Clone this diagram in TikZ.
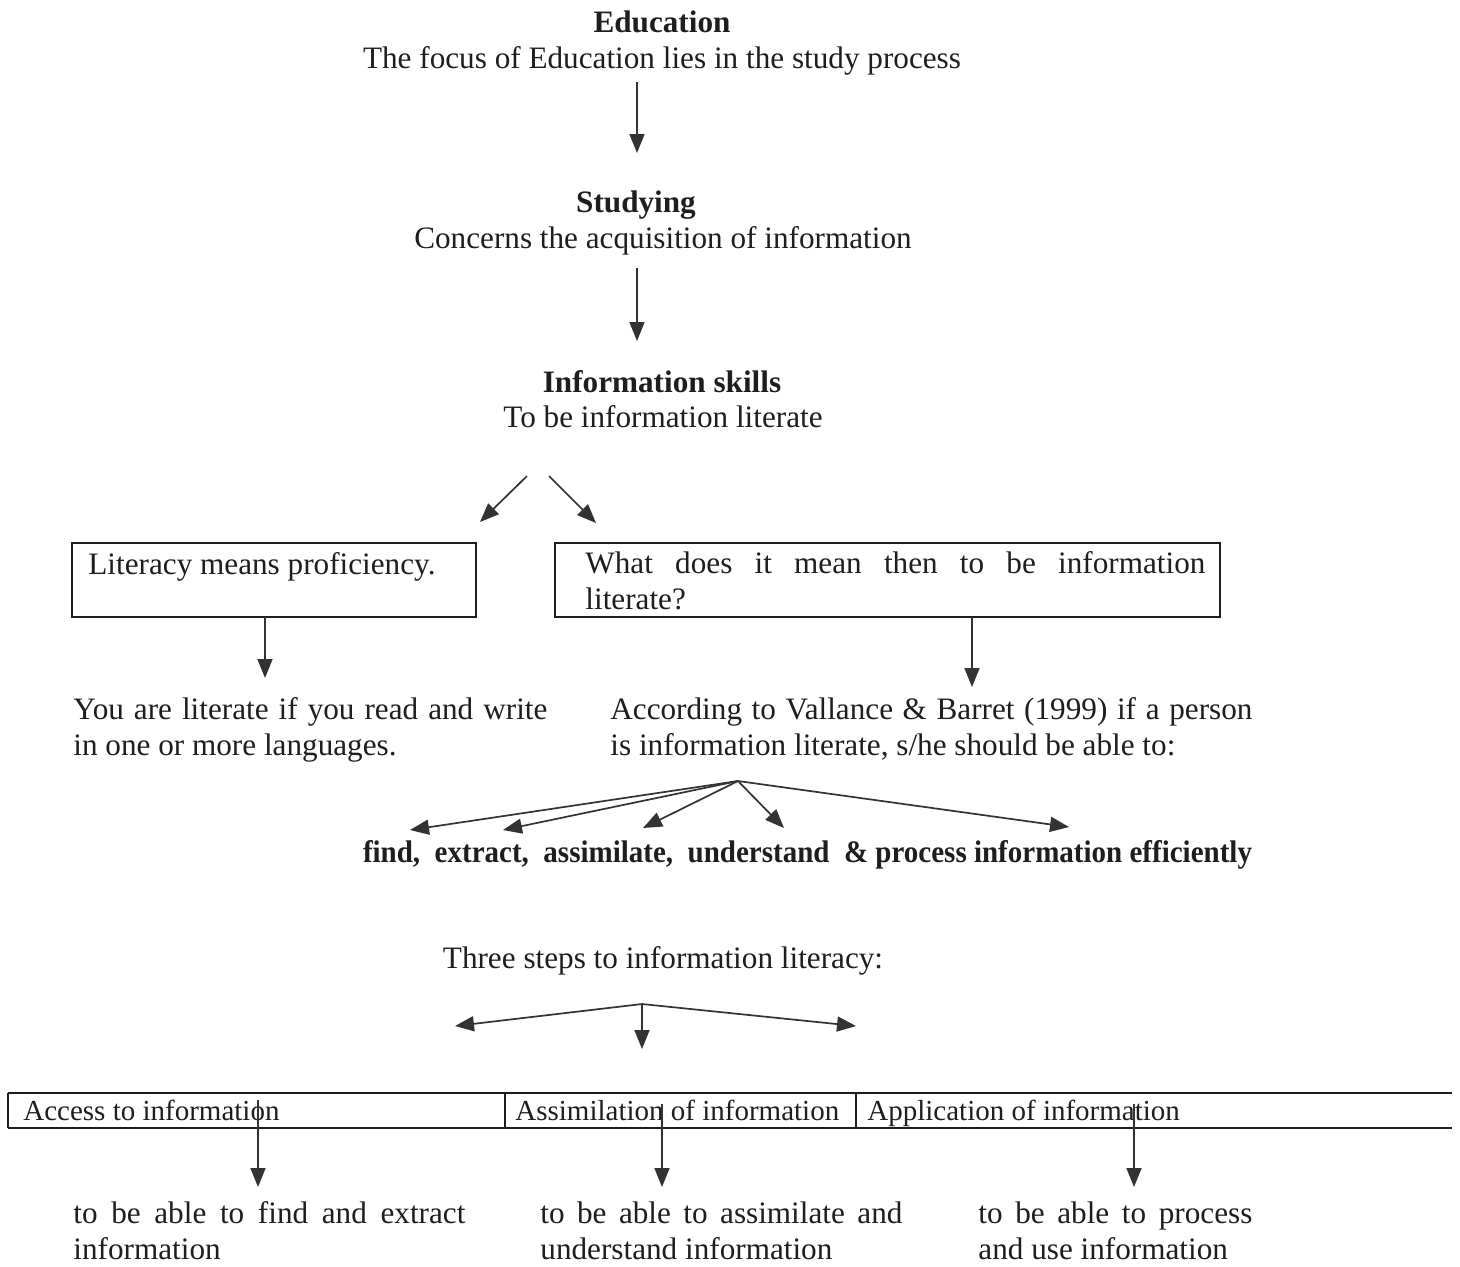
\documentclass[tikz,border=0pt]{standalone}
\usepackage{fontspec}
\setmainfont{Liberation Serif}
\usetikzlibrary{arrows.meta}
\definecolor{ink}{HTML}{1E1E1E}
\definecolor{arr}{HTML}{333333}
\begin{document}
\begin{tikzpicture}[x=0.5pt,y=-0.5pt,
  txt/.style={inner sep=0pt, font=\fontsize{15.6}{18}\selectfont, text=ink},
  lft/.style={txt, anchor=base west},
  ctr/.style={txt, anchor=base},
  cell/.style={lft, font=\fontsize{14.5}{17}\selectfont},
  boxline/.style={draw=ink, line width=0.7pt},
  conn/.style={draw=arr, line width=0.85pt, -{Triangle[length=9.5pt,width=7.5pt]}},
]
\useasboundingbox[fill=white] (0,0) rectangle (1460,1266);

% top chain
\node[ctr, font=\fontsize{15.6}{18}\selectfont\bfseries] (edu) at (662,32) {Education};
\node[ctr] (edu2) at (662,68) {The focus of Education lies in the study process};
\node[ctr, font=\fontsize{15.6}{18}\selectfont\bfseries] (stu) at (636,212) {Studying};
\node[ctr] (stu2) at (663,248) {Concerns the acquisition of information};
\node[ctr, font=\fontsize{15.6}{18}\selectfont\bfseries] (inf) at (662,392) {Information skills};
\node[ctr] (inf2) at (663,427) {To be information literate};

\coordinate (a1s) at (637,82);  \coordinate (a1e) at (637,153);
\coordinate (a2s) at (637,268); \coordinate (a2e) at (637,341);
\path[conn] (a1s) -- (a1e);
\path[conn] (a2s) -- (a2e);

\coordinate (d1s) at (527,476); \coordinate (d1e) at (480,522);
\coordinate (d2s) at (549,476); \coordinate (d2e) at (596,523);
\path[conn] (d1s) -- (d1e);
\path[conn] (d2s) -- (d2e);

% boxes
\draw[boxline] (72,543) rectangle (476,617);
\draw[boxline] (555,543) rectangle (1220,617);
\node[lft] (lit) at (88,574) {Literacy means proficiency.};
\node[lft] (what1) at (585,573) {\makebox[310pt][s]{What does it mean then to be information}};
\node[lft] (what2) at (585,609) {literate?};

\coordinate (b1s) at (265,617); \coordinate (b1e) at (265,678);
\coordinate (b2s) at (972,617); \coordinate (b2e) at (972,687);
\path[conn] (b1s) -- (b1e);
\path[conn] (b2s) -- (b2e);

\node[lft] (you1) at (73,719) {\makebox[237pt][s]{You are literate if you read and write}};
\node[lft] (you2) at (73,755) {in one or more languages.};
\node[lft] (acc1) at (610,719) {\makebox[321pt][s]{According to Vallance \& Barret (1999) if a person}};
\node[lft] (acc2) at (610,755) {is information literate, s/he should be able to:};

% fan
\coordinate (fo) at (738,781);
\coordinate (f1) at (410,830);
\coordinate (f2) at (503,830);
\coordinate (f3) at (643,828);
\coordinate (f4) at (784,828);
\coordinate (f5) at (1069,827);
\foreach \t in {f1,f2,f3,f4,f5} \path[conn] (fo) -- (\t);

\node[ctr] (bold) at (807.5,862) {\resizebox{444.5pt}{11pt}{\bfseries find,\ \ extract,\ \ assimilate,\ \ understand\ \ \& process information efficiently}};

\node[ctr] (three) at (663,968) {Three steps to information literacy:};

\coordinate (to) at (642,1004);
\coordinate (t1) at (455,1026);
\coordinate (t2) at (642,1049);
\coordinate (t3) at (856,1026);
\path[conn] (to) -- (t1);
\path[conn] (to) -- (t2);
\path[conn] (to) -- (t3);

% table
\draw[boxline] (8,1093) -- (1452,1093);
\draw[boxline] (8,1128) -- (1452,1128);
\draw[boxline] (8,1093) -- (8,1128);
\draw[boxline] (505,1093) -- (505,1128);
\draw[boxline] (856,1093) -- (856,1128);
\node[cell] (c1) at (23,1120) {Access to information};
\node[cell] (c2) at (515,1120) {Assimilation of information};
\node[cell] (c3) at (867,1120) {Application of information};

\coordinate (e1s) at (258,1100); \coordinate (e1e) at (258,1187);
\coordinate (e2s) at (662,1104); \coordinate (e2e) at (662,1187);
\coordinate (e3s) at (1134,1104); \coordinate (e3e) at (1134,1187);
\path[conn] (e1s) -- (e1e);
\path[conn] (e2s) -- (e2e);
\path[conn] (e3s) -- (e3e);

\node[lft] (r1a) at (73,1223) {\makebox[196pt][s]{to be able to find and extract}};
\node[lft] (r1b) at (73,1259) {information};
\node[lft] (r2a) at (540,1223) {\makebox[181pt][s]{to be able to assimilate and}};
\node[lft] (r2b) at (540,1259) {understand information};
\node[lft] (r3a) at (978,1223) {\makebox[137pt][s]{to be able to process}};
\node[lft] (r3b) at (978,1259) {and use information};
\end{tikzpicture}
\end{document}
